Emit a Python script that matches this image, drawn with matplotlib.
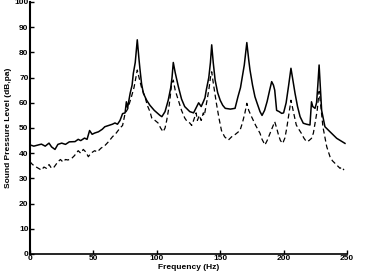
import numpy as np
import matplotlib
matplotlib.use("Agg")
import matplotlib.pyplot as plt

# solid curve (upper)
freq_solid = [0, 3, 6, 9, 12, 15, 17, 19.7, 22, 25, 28, 31, 35.5, 38, 40, 43, 45, 47, 49,
              51, 54, 57, 59, 62, 65, 67, 69, 71, 73, 75, 76, 77, 78, 79, 80.5, 81.5, 83,
              84.6, 86, 86.8, 88, 89.4, 92, 94.6, 98, 102.5, 104, 106.5, 109, 111, 112, 113,
              114.5, 117, 119.5, 122, 126, 129, 131, 133, 135, 136.7, 138, 139, 141, 142.3,
              143.3, 144.5, 146, 148, 150, 152, 154, 158, 161.7, 164, 166, 167, 169, 171,
              172.5, 173.5, 175.5, 177.4, 179, 181.4, 183, 185, 187, 189, 190.6, 192, 193,
              194.5, 196.5, 198.5, 200, 202, 204, 205.8, 207, 209, 211, 213, 215.5, 218,
              220.8, 222, 223, 224.8, 226, 227, 228, 229, 230, 232.6, 236.6, 241.9, 248.4]
spl_solid = [43.3, 42.8, 43.2, 43.6, 42.8, 44, 42.5, 41.5, 43.5, 44, 43.5, 44.5, 44.6, 45.5,
             45, 46, 45.5, 49, 47.5, 48, 48.5, 49.5, 50.5, 51, 51.5, 52, 51.5, 53, 55.7, 56,
             60.4, 58, 61, 63.8, 67, 71.7, 76, 85, 77, 73, 67.5, 63.8, 61, 59, 57, 55, 54.5,
             56.5, 61, 66, 70, 76, 72, 66.4, 61.5, 58.5, 56.5, 56, 58, 60, 58.5, 60.4, 62,
             65, 70, 76, 83, 76, 69, 64, 61, 59, 57.8, 57.5, 57.8, 62.4, 66, 69, 75, 83.9,
             77, 73, 67, 62.4, 60, 56.5, 55, 57, 60.5, 65, 68.4, 67, 65, 57, 56.5, 55.8, 56,
             60, 67, 73.7, 70, 63.8, 58.5, 54.5, 51.9, 51.5, 51.2, 60.4, 58.5, 57.8, 60, 67,
             75, 66, 57, 50.5, 48.5, 45.9, 43.9]

# dashed curve (lower)
freq_dash = [0, 2, 5, 9, 11, 13, 15, 17, 19, 22, 24, 26, 28, 30, 33, 35, 38, 40, 42, 44, 46,
             48, 51, 53, 56, 59, 62, 65, 68, 71, 73, 75, 77, 80, 82, 83.5, 84.6, 86, 88,
             90.7, 92.5, 94.6, 96, 98.6, 101, 103, 105, 106.5, 107.8, 109.5, 110.5, 111.7,
             113, 114.5, 117, 119.5, 122, 124, 126, 127.5, 129, 131, 132, 133.5, 135, 136.7,
             137.5, 139.4, 141, 142.3, 143.3, 144.5, 147, 149, 151, 153.5, 156.4, 159, 162,
             165.6, 167.5, 169.5, 171, 172.5, 174.7, 178, 181.4, 183, 185.3, 187, 189, 191,
             193, 194.5, 196, 197.5, 199.3, 201, 202.5, 204, 205.8, 207.5, 210, 212, 214,
             216, 218, 220, 222, 223.5, 224.8, 226.5, 228, 229.5, 231, 234, 236.6, 238.5,
             240.5, 242.5, 244.5, 246, 247.6]
spl_dash = [36.6, 35.5, 34.5, 33.3, 34.5, 34, 35.5, 34, 34.5, 36.6, 37.5, 36.5, 37.5, 37.3,
            38, 39, 41, 40, 41.5, 40.5, 38.6, 40, 41, 40.5, 42, 43, 44.6, 46.5, 48, 50, 51,
            55.8, 57.5, 62.4, 66, 70, 73, 70, 66, 62.4, 59, 56.5, 54, 53, 52, 50, 48.5, 50,
            53, 58, 62, 67.7, 69, 65, 61, 57, 54, 52.5, 52, 51, 53, 56, 53, 55, 53, 56, 55,
            60.4, 65, 70, 72.3, 68, 59.8, 54, 49, 46.5, 45.2, 46.5, 47.5, 49, 52, 56, 59.8,
            57, 54.5, 51, 47.9, 45.5, 43.3, 45, 47.5, 50, 52.5, 50, 47.2, 45, 43.9, 46, 50,
            55, 61, 57, 51.2, 49.5, 47.9, 46, 44.6, 45, 45.9, 48, 51.9, 57, 64.5, 58, 50.5,
            42.6, 38.6, 37, 36, 35, 34, 34.5, 33.3]

fig = plt.figure(figsize=(3.72, 2.8), dpi=100)
ax = fig.add_axes([30 / 372, 26 / 280, 317 / 372, 252 / 280])

ax.plot(freq_solid, spl_solid, color="black", linewidth=1.1)
ax.plot(freq_dash, spl_dash, color="black", linewidth=0.9, linestyle=(0, (4, 2.5)))

ax.set_xlim(0, 250)
ax.set_ylim(0, 100)
ax.set_xticks([0, 50, 100, 150, 200, 250])
ax.set_yticks(np.arange(0, 101, 10))

for s in ["top", "right"]:
    ax.spines[s].set_visible(False)
ax.spines["left"].set_linewidth(1.5)
ax.spines["bottom"].set_linewidth(1.2)
ax.tick_params(direction="in", length=3, width=1, labelsize=6, pad=1)
for lab in ax.get_xticklabels() + ax.get_yticklabels():
    lab.set_fontweight("bold")
    lab.set_family("Liberation Sans")

ax.set_xlabel("Frequency (Hz)", fontsize=6, fontweight="bold", family="Liberation Sans", labelpad=1)
ax.set_ylabel("Sound Pressure Level (dB,pa)", fontsize=6, fontweight="bold", family="Liberation Sans", labelpad=2)

fig.savefig("out.png", dpi=100)
